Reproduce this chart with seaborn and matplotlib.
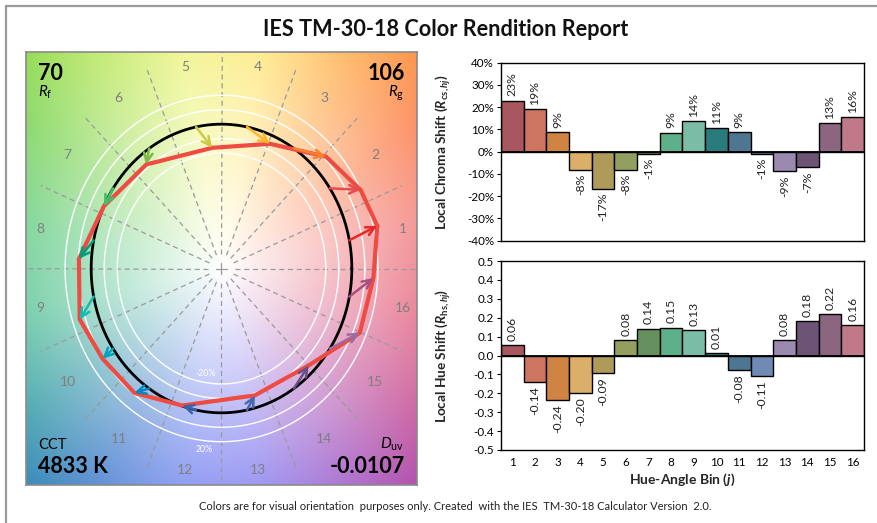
import numpy as np
import matplotlib
matplotlib.use("Agg")
import matplotlib.pyplot as plt
import seaborn as sns
import pandas as pd
from matplotlib.lines import Line2D
from matplotlib.colors import to_rgb

# ---------------- data ----------------
bins = [str(i) for i in range(1, 17)]
chroma_shift = [0.23, 0.19, 0.09, -0.08, -0.166, -0.08, -0.01, 0.086,
                0.136, 0.106, 0.088, -0.01, -0.088, -0.07, 0.13, 0.156]
hue_shift = [0.057, -0.14, -0.237, -0.197, -0.093, 0.08, 0.142, 0.148,
             0.134, 0.013, -0.077, -0.11, 0.08, 0.183, 0.218, 0.163]
bar_colors = ["#A8575E", "#CE7561", "#CF8444", "#DBAF6A", "#AE9A59", "#939F5E",
              "#66915E", "#5DB08A", "#7ABCA6", "#2A7B7B", "#4E7690", "#6F8AB4",
              "#9A8AB0", "#6D5477", "#8C6580", "#BF7989"]
arrow_colors = ["#E62828", "#E74B4B", "#FB812E", "#FFB529", "#CBCA46", "#7EB94C",
                "#41C06D", "#009C7C", "#16BCB0", "#00A4BF", "#0085C3", "#3B62AA",
                "#4568AE", "#6A4E85", "#9D69A1", "#A74F81"]
bg_colors = ["#F6A0A0", "#FDAA88", "#FFC88A", "#FFEE9C", "#F2F7A0", "#CDEE92",
             "#A6E28E", "#8EDAA4", "#86D4B4", "#78BCC4", "#80A8DC", "#98A6F4",
             "#A6A0F4", "#C090D8", "#D888B8", "#EC90A4"]
rf_value, rg_value = "70", "106"
cct_value, duv_value = "4833 K", "-0.0107"
title_text = "IES TM-30-18 Color Rendition Report"
footer_text = ("Colors are for visual orientation  purposes only. Created  with the IES  "
               "TM-30-18 Calculator Version  2.0.")

# ---------------- style ----------------
sns.set_theme(style="white")
FONT = "Lato"
plt.rcParams["font.family"] = [FONT, "DejaVu Sans"]
plt.rcParams["mathtext.fontset"] = "custom"
plt.rcParams["mathtext.rm"] = FONT
plt.rcParams["mathtext.it"] = FONT + ":italic"
plt.rcParams["mathtext.bf"] = FONT + ":bold"
plt.rcParams["mathtext.bfit"] = FONT + ":bold:italic"

W, H = 878, 523
fig = plt.figure(figsize=(W / 100, H / 100), dpi=100)


def frac_box(x0, y0, x1, y1):
    return [x0 / W, 1 - y1 / H, (x1 - x0) / W, (y1 - y0) / H]


# page frame lines (top and left)
fig.add_artist(Line2D([6 / W, 1], [1 - 6 / H, 1 - 6 / H], transform=fig.transFigure,
                      color="#9A9A9A", lw=1.6))
fig.add_artist(Line2D([6 / W, 6 / W], [0, 1 - 6 / H], transform=fig.transFigure,
                      color="#9A9A9A", lw=1.6))

fig.text(446 / W, 1 - 30 / H, title_text, ha="center", va="center",
         fontsize=15.6, fontweight="bold", color="#111111")
fig.text(455 / W, 1 - 507 / H, footer_text, ha="center", va="center",
         fontsize=8.0, color="#222222")

# ---------------- colour vector graphic ----------------
ax = fig.add_axes(frac_box(26, 52, 417, 485))
n = 500
xs = np.linspace(-1.5, 1.5, n)
X, Y = np.meshgrid(xs, xs[::-1])
R = np.hypot(X, Y)
A = np.degrees(np.arctan2(Y, X)) % 360
anchor_ang = (np.arange(16) + 0.5) * 22.5
ang_ext = np.concatenate([anchor_ang - 360, anchor_ang, anchor_ang + 360])
cols = np.array([to_rgb(c) for c in bg_colors])
cols_ext = np.vstack([cols, cols, cols])
img = np.zeros((n, n, 3))
f = R / 1.42
for k in range(3):
    base = np.interp(A, ang_ext, cols_ext[:, k])
    img[..., k] = np.clip(1 + (base - 1) * f, 0, 1)
ax.imshow(img, extent=[-1.5, 1.5, -1.5, 1.5], aspect="auto", zorder=0,
          interpolation="bilinear")

# radial dashed bin boundaries
for k in range(16):
    t = np.radians(k * 22.5)
    rmax = 2.2 if k % 4 == 0 else 1.5
    ax.plot([0.1 * np.cos(t), rmax * np.cos(t)], [0.1 * np.sin(t), rmax * np.sin(t)],
            color="#9A9A9A", lw=0.9, ls=(0, (4, 3)), zorder=1)
ax.plot([-0.04, 0.04], [0, 0], color="#9A9A9A", lw=0.9, zorder=1)
ax.plot([0, 0], [-0.04, 0.04], color="#9A9A9A", lw=0.9, zorder=1)

th = np.linspace(0, 2 * np.pi, 361)
for rr in [0.8, 0.9, 1.1, 1.2]:
    ax.plot(rr * np.cos(th), rr * np.sin(th), color="white", lw=1.0, zorder=2)
ax.plot(np.cos(th), np.sin(th), color="black", lw=2.0, zorder=3)

ang = np.radians((np.arange(16) + 0.5) * 22.5)
cs = np.array(chroma_shift)
hs = np.array(hue_shift)
ref_x, ref_y = np.cos(ang), np.sin(ang)
test_x = (1 + cs) * np.cos(ang) - hs * np.sin(ang)
test_y = (1 + cs) * np.sin(ang) + hs * np.cos(ang)
poly = pd.DataFrame({"x": np.append(test_x, test_x[0]), "y": np.append(test_y, test_y[0])})
sns.lineplot(data=poly, x="x", y="y", sort=False, estimator=None, color="#EE4B43",
             lw=3.0, ax=ax, zorder=4)
for j in range(16):
    ax.annotate("", xy=(test_x[j], test_y[j]), xytext=(ref_x[j], ref_y[j]),
                arrowprops=dict(arrowstyle="->,head_length=0.45,head_width=0.22",
                                color=arrow_colors[j], lw=1.8,
                                mutation_scale=14, shrinkA=0, shrinkB=0), zorder=5)

for j in range(16):
    ax.text(1.42 * np.cos(ang[j]), 1.42 * np.sin(ang[j]), bins[j], ha="center",
            va="center", fontsize=10, color="#7F7F7F", zorder=6)
ax.text(-0.12, -0.73, "-20%", ha="center", va="center", fontsize=6.3, color="white", zorder=6)
ax.text(-0.13, -1.255, "20%", ha="center", va="center", fontsize=6.3, color="white", zorder=6)

ax.text(-1.407, 1.308, rf_value, ha="left", va="baseline", fontsize=15.5,
        fontweight="bold", color="black", zorder=7)
ax.text(-1.407, 1.192, r"$\mathit{R}_\mathrm{f}$", ha="left", va="baseline",
        fontsize=11, color="black", zorder=7)
ax.text(1.406, 1.308, rg_value, ha="right", va="baseline", fontsize=15.5,
        fontweight="bold", color="black", zorder=7)
ax.text(1.40, 1.192, r"$\mathit{R}_\mathrm{g}$", ha="right", va="baseline",
        fontsize=11, color="black", zorder=7)
ax.text(-1.407, -1.25, "CCT", ha="left", va="baseline", fontsize=10.5,
        color="black", zorder=7)
ax.text(-1.407, -1.419, cct_value, ha="left", va="baseline", fontsize=15.5,
        fontweight="bold", color="black", zorder=7)
ax.text(1.40, -1.245, r"$\mathit{D}_\mathrm{uv}$", ha="right", va="baseline",
        fontsize=11, color="black", zorder=7)
ax.text(1.406, -1.419, duv_value, ha="right", va="baseline", fontsize=15.5,
        fontweight="bold", color="black", zorder=7)

ax.set_xlim(-1.5, 1.5)
ax.set_ylim(-1.5, 1.5)
ax.set_xticks([])
ax.set_yticks([])
ax.set_xlabel("")
ax.set_ylabel("")
for s in ax.spines.values():
    s.set_color("#8A8A8A")
    s.set_linewidth(1.2)

# ---------------- bar charts ----------------
df = pd.DataFrame({"bin": bins, "cs": chroma_shift, "hs": hue_shift})


def clean(v):
    return 0.0 if abs(v) < 1e-9 else v


def bar_panel(box, col, ylim, yticks, fmt_tick, fmt_lab, show_x):
    a = fig.add_axes(box)
    sns.barplot(data=df, x="bin", y=col, hue="bin", order=bins, hue_order=bins,
                palette=bar_colors, width=1.0, edgecolor="black", linewidth=1.0,
                legend=False, ax=a, saturation=1)
    a.axhline(0, color="black", lw=1.3, zorder=5)
    a.set_xlim(-0.5, 15.5)
    a.set_ylim(*ylim)
    a.set_yticks(yticks)
    a.set_yticklabels([fmt_tick(clean(v)) for v in yticks])
    a.tick_params(axis="y", which="both", left=True, length=3, width=0.8,
                  labelsize=8.4, pad=2, colors="black")
    if show_x:
        a.tick_params(axis="x", length=0, labelsize=8.4, pad=5, colors="black")
    else:
        a.tick_params(axis="x", length=0, labelbottom=False)
    for s in a.spines.values():
        s.set_color("black")
        s.set_linewidth(1.0)
    for i, v in enumerate(df[col]):
        off = 3 if v >= 0 else -3
        a.annotate(fmt_lab(v), (i, v), xytext=(0, off), textcoords="offset points",
                   rotation=90, ha="center", va="bottom" if v >= 0 else "top",
                   fontsize=8.8, color="#222222")
    a.set_xlabel("")
    return a


ax1 = bar_panel(frac_box(501, 62.7, 864, 240.7), "cs", (-0.4, 0.4),
                np.round(np.arange(-0.4, 0.41, 0.1), 2),
                lambda v: f"{v * 100:.0f}%", lambda v: f"{v * 100:.0f}%", False)
ax1.set_ylabel(r"Local Chroma Shift ($\mathbfit{R}_{\mathbf{cs,}\mathbfit{hj}}$)",
               fontsize=9.8, fontweight="bold")
ax1.yaxis.set_label_coords(-0.132, 0.5)

ax2 = bar_panel(frac_box(501, 261, 864, 450), "hs", (-0.5, 0.5),
                np.round(np.arange(-0.5, 0.51, 0.1), 2),
                lambda v: f"{v:.1f}", lambda v: f"{v:.2f}", True)
ax2.set_ylabel(r"Local Hue Shift ($\mathbfit{R}_{\mathbf{hs,}\mathbfit{hj}}$)",
               fontsize=9.8, fontweight="bold")
ax2.yaxis.set_label_coords(-0.132, 0.5)
ax2.set_xlabel(r"Hue-Angle Bin ($\mathbfit{j}$)", fontsize=10, fontweight="bold",
               labelpad=3)

fig.savefig("out.png", dpi=100)
